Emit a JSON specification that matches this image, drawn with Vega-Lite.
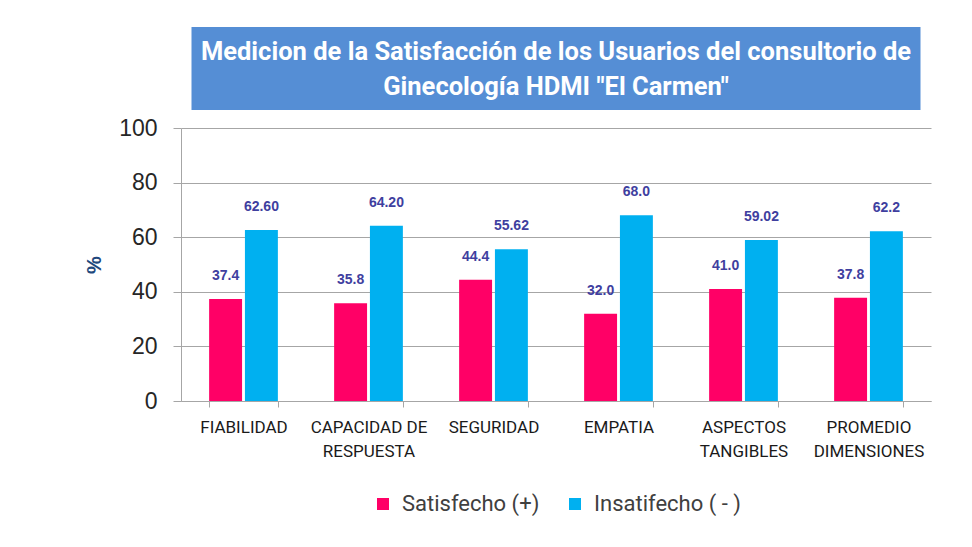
{
  "$schema": "https://vega.github.io/schema/vega-lite/v6.json",
  "padding": {"left": 84, "top": 27, "right": 5, "bottom": 5},
  "background": "white",
  "config": {"font": "Roboto", "view": {"stroke": null}},
  "spacing": 18,
  "center": true,
  "bounds": "flush",
  "vconcat": [
    {
      "width": 729,
      "height": 83,
      "view": {"fill": "#558ED5", "stroke": null},
      "data": {"values": [{"k": 1}]},
      "mark": {
        "type": "text",
        "text": ["Medicion de la  Satisfacción  de los Usuarios del consultorio de", "Ginecología HDMI \"El Carmen\""],
        "font": "Roboto",
        "fontSize": 25.5,
        "fontWeight": "bold",
        "color": "white",
        "lineHeight": 35,
        "align": "center",
        "baseline": "middle",
        "dy": -17
      },
      "encoding": {}
    },
    {
      "width": 750,
      "height": 273,
      "data": {
        "values": [
          {"dimension": "FIABILIDAD", "grupo": "Satisfecho (+)", "valor": 37.4, "etiqueta": "37.4"},
          {"dimension": "FIABILIDAD", "grupo": "Insatifecho ( - )", "valor": 62.6, "etiqueta": "62.60"},
          {"dimension": "CAPACIDAD DE|RESPUESTA", "grupo": "Satisfecho (+)", "valor": 35.8, "etiqueta": "35.8"},
          {"dimension": "CAPACIDAD DE|RESPUESTA", "grupo": "Insatifecho ( - )", "valor": 64.2, "etiqueta": "64.20"},
          {"dimension": "SEGURIDAD", "grupo": "Satisfecho (+)", "valor": 44.4, "etiqueta": "44.4"},
          {"dimension": "SEGURIDAD", "grupo": "Insatifecho ( - )", "valor": 55.62, "etiqueta": "55.62"},
          {"dimension": "EMPATIA", "grupo": "Satisfecho (+)", "valor": 32.0, "etiqueta": "32.0"},
          {"dimension": "EMPATIA", "grupo": "Insatifecho ( - )", "valor": 68.0, "etiqueta": "68.0"},
          {"dimension": "ASPECTOS|TANGIBLES", "grupo": "Satisfecho (+)", "valor": 41.0, "etiqueta": "41.0"},
          {"dimension": "ASPECTOS|TANGIBLES", "grupo": "Insatifecho ( - )", "valor": 59.02, "etiqueta": "59.02"},
          {"dimension": "PROMEDIO|DIMENSIONES", "grupo": "Satisfecho (+)", "valor": 37.8, "etiqueta": "37.8"},
          {"dimension": "PROMEDIO|DIMENSIONES", "grupo": "Insatifecho ( - )", "valor": 62.2, "etiqueta": "62.2"}
        ]
      },
      "encoding": {
        "x": {
          "field": "dimension",
          "type": "nominal",
          "sort": null,
          "scale": {"paddingInner": 0.45, "paddingOuter": 0.225},
          "axis": {
            "title": null,
            "labelAngle": 0,
            "labelExpr": "split(datum.label, '|')",
            "labelFont": "Roboto",
            "labelFontSize": 17,
            "labelColor": "#1a1a1a",
            "labelPadding": 12,
            "labelLineHeight": 24,
            "labelLimit": 200,
            "domainColor": "#A6A6A6",
            "tickColor": "#A6A6A6",
            "tickBand": "extent",
            "tickSize": 6
          }
        },
        "xOffset": {
          "field": "grupo",
          "type": "nominal",
          "scale": {"domain": ["Satisfecho (+)", "Insatifecho ( - )"], "paddingInner": 0.08}
        },
        "y": {
          "field": "valor",
          "type": "quantitative",
          "scale": {"domain": [0, 100]},
          "axis": {
            "values": [0, 20, 40, 60, 80, 100],
            "title": "%",
            "titleFont": "Liberation Sans",
            "titleFontSize": 20,
            "titleFontWeight": "bold",
            "titleColor": "#1F497D",
            "titlePadding": 14,
            "labelFont": "Liberation Sans",
            "labelFontSize": 23,
            "labelColor": "#262626",
            "labelPadding": 16,
            "tickSize": 8,
            "tickColor": "#A6A6A6",
            "domainColor": "#A6A6A6",
            "gridColor": "#A6A6A6"
          }
        }
      },
      "layer": [
        {
          "mark": {"type": "bar"},
          "encoding": {
            "color": {
              "field": "grupo",
              "type": "nominal",
              "scale": {"domain": ["Satisfecho (+)", "Insatifecho ( - )"], "range": ["#FF0066", "#00B0F0"]},
              "legend": {
                "orient": "none",
                "legendX": 191,
                "legendY": 466,
                "direction": "horizontal",
                "title": null,
                "symbolType": "square",
                "symbolSize": 144,
                "symbolStrokeWidth": 0,
                "labelFont": "Roboto",
                "labelFontSize": 22,
                "labelColor": "#404040",
                "labelOffset": 8,
                "columnPadding": 24
              }
            }
          }
        },
        {
          "mark": {
            "type": "text",
            "baseline": "bottom",
            "dy": -16,
            "fontSize": 14,
            "fontWeight": "bold",
            "font": "Liberation Sans",
            "color": "#3F3F9F"
          },
          "encoding": {"text": {"field": "etiqueta"}}
        }
      ]
    }
  ]
}
